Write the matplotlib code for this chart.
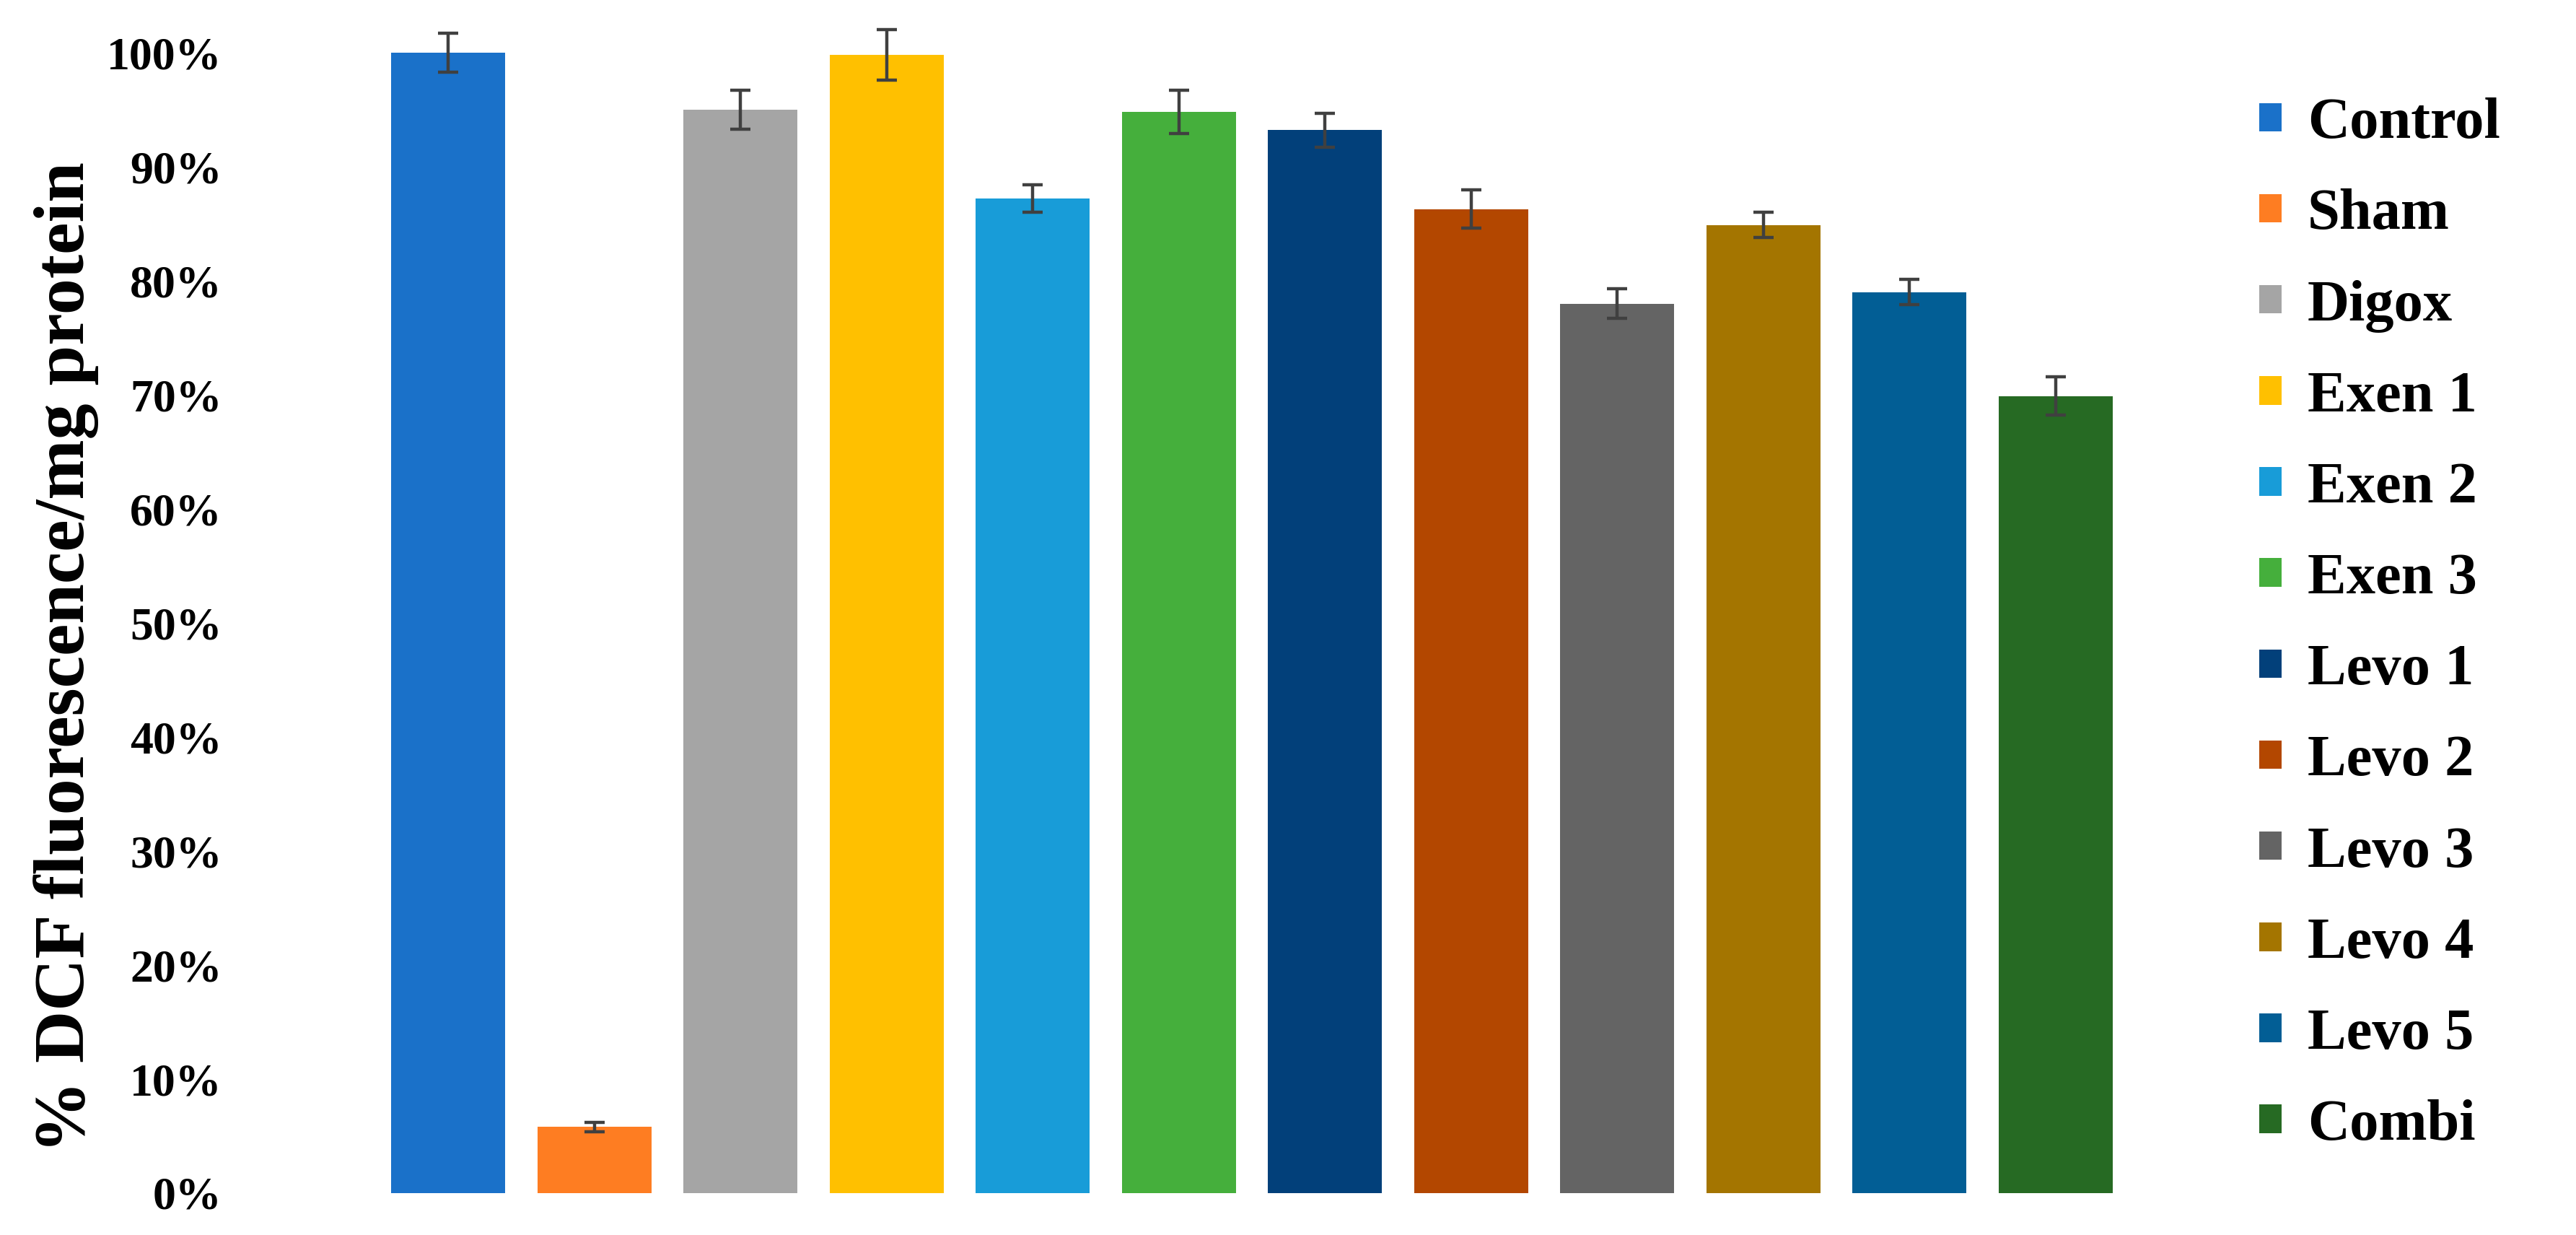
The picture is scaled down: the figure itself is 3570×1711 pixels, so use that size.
import numpy as np
import matplotlib
matplotlib.use("Agg")
import matplotlib.pyplot as plt
from matplotlib.ticker import PercentFormatter
from matplotlib.patches import Patch

# data
groups = ["Control", "Sham", "Digox", "Exen 1", "Exen 2", "Exen 3",
          "Levo 1", "Levo 2", "Levo 3", "Levo 4", "Levo 5", "Combi"]
values = [100.0, 5.8, 95.0, 99.8, 87.2, 94.8, 93.2, 86.3, 78.0, 84.9, 79.0, 69.9]
errors = [1.7, 0.4, 1.7, 2.2, 1.2, 1.9, 1.5, 1.7, 1.3, 1.1, 1.1, 1.7]
colors = ["#1A71C9", "#FE7D22", "#A5A5A5", "#FFC000", "#189CD8", "#45AF3C",
          "#02407A", "#B34700", "#646464", "#A47500", "#025E95", "#266A23"]

plt.rcParams["font.family"] = ["Liberation Serif", "DejaVu Serif"]
plt.rcParams["font.weight"] = "bold"

fig = plt.figure(figsize=(35.7, 17.11), dpi=100)
ax = fig.add_axes([0.1457, 0.0339, 0.6806, 0.9234])

x = np.arange(len(groups))
bars = ax.bar(x, values, width=0.78, color=colors)
ax.errorbar(x, values, yerr=errors, fmt="none", ecolor="#404040",
            elinewidth=3.2, capsize=10, capthick=3.2, clip_on=False)

ax.set_xlim(-0.5, len(groups) - 0.5)
ax.set_ylim(0, 100)
ax.set_yticks(np.arange(0, 101, 10))
ax.yaxis.set_major_formatter(PercentFormatter(decimals=0))
ax.set_xticks([])
ax.tick_params(axis="y", length=0, pad=153, labelsize=46)
for s in ax.spines.values():
    s.set_visible(False)

ax.set_ylabel("% DCF fluorescence/mg protein", fontsize=72, fontweight="bold", va="center")
ax.yaxis.set_label_coords(-0.1765, 0.47)

handles = [Patch(facecolor=c, edgecolor="none") for c in colors]
fig.legend(handles, groups, loc="upper left", bbox_to_anchor=(0.877, 0.921),
           frameon=False, fontsize=58, handlelength=0.38, handleheight=0.38,
           handletextpad=0.45, labelspacing=0.66, borderpad=0, borderaxespad=0)

fig.savefig("out.png", dpi=100)
